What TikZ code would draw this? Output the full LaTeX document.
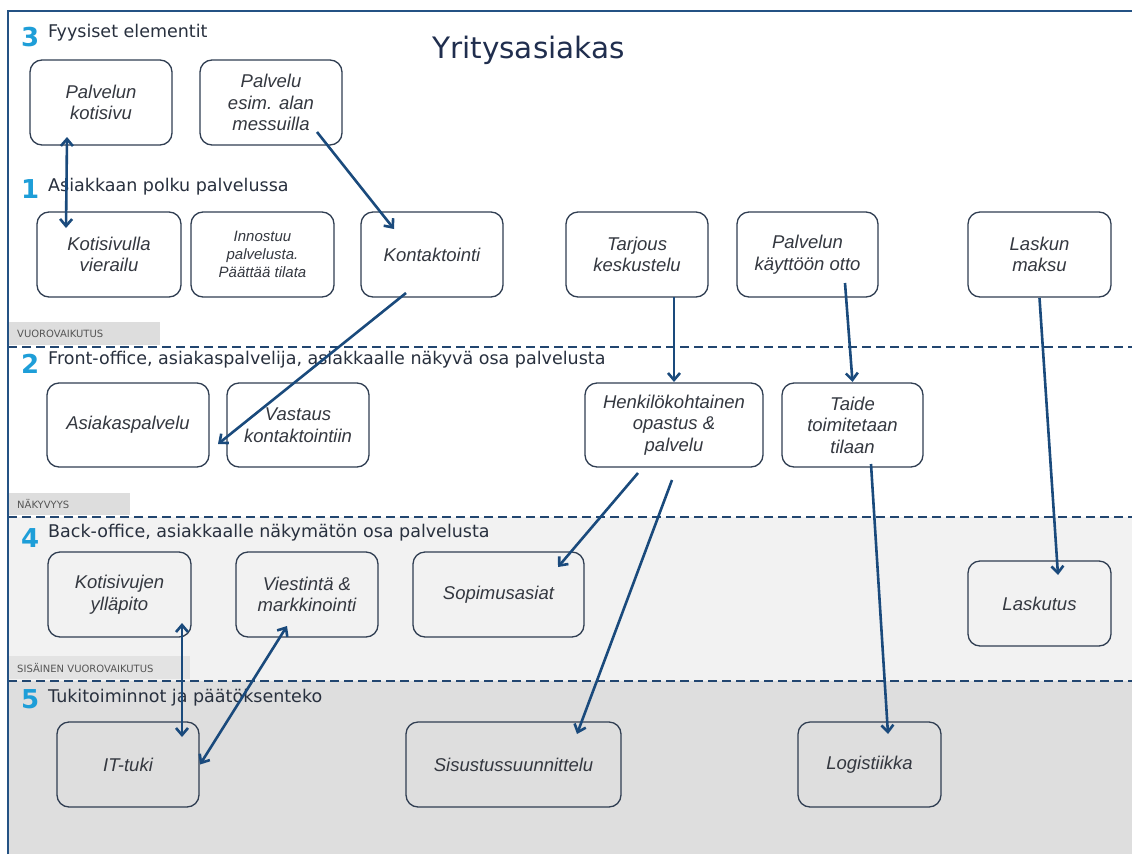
\documentclass[tikz,border=0pt]{standalone}
\usepackage{fontspec}
\usetikzlibrary{arrows.meta,calc}
\newfontfamily\hdfont{DejaVu Sans}
\newfontfamily\bxfont{Liberation Sans}
\definecolor{framec}{RGB}{36,82,132}
\definecolor{dashc}{RGB}{34,70,112}
\definecolor{arrowc}{RGB}{26,74,124}
\definecolor{boxline}{RGB}{48,62,82}
\definecolor{boxtext}{RGB}{52,56,64}
\definecolor{hdtext}{RGB}{40,48,62}
\definecolor{numc}{RGB}{30,158,216}
\definecolor{titlec}{RGB}{32,46,78}
\definecolor{bandfour}{RGB}{242,242,242}
\definecolor{bandfive}{RGB}{222,222,222}
\definecolor{lblfill}{RGB}{221,221,221}
\definecolor{lbltext}{RGB}{85,85,85}
\begin{document}
\begin{tikzpicture}[x=1pt,y=-1pt,
  box/.style={draw=boxline,line width=1.3pt,rounded corners=12pt,inner sep=0pt,outer sep=0pt,
    align=center,text=boxtext,font=\bxfont\itshape\fontsize{18.5}{21.5}\selectfont},
  smallbox/.style={box,font=\bxfont\itshape\fontsize{15}{18}\selectfont},
  arr/.style={draw=arrowc,line width=2.6pt,-{Straight Barb[length=7pt,width=12pt]}},
  biarr/.style={draw=arrowc,line width=2.6pt,{Straight Barb[length=7pt,width=12pt]}-{Straight Barb[length=7pt,width=12pt]}},
  sep/.style={draw=dashc,line width=2.2pt,dash pattern=on 9pt off 5pt},
  num/.style={anchor=base west,inner sep=0pt,text=numc,font=\hdfont\bfseries\fontsize{26}{26}\selectfont},
  hd/.style={anchor=base west,inner sep=0pt,text=hdtext,font=\hdfont\fontsize{17.5}{17.5}\selectfont},
  lbl/.style={anchor=north west,fill=lblfill,inner xsep=9pt,inner ysep=0pt,align=left,
    text=lbltext,font=\hdfont\fontsize{10}{10}\selectfont}]
\useasboundingbox (0,0) rectangle (1132,854);

% bands
\fill[white] (0,0) rectangle (1132,517);
\fill[bandfour] (8,517) rectangle (1132,681);
\fill[bandfive] (8,681) rectangle (1132,854);

% swim-lane labels
\node[lbl,minimum height=23pt,text width=134pt] (lv) at (8,322) {VUOROVAIKUTUS};
\node[lbl,minimum height=22pt,text width=104pt] (ln) at (8,493) {NÄKYVYYS};
\node[lbl,minimum height=23pt,text width=164pt,fill=lblfill!70!bandfour] (ls) at (8,656) {SISÄINEN VUOROVAIKUTUS};

% separators and frame
\draw[sep] (8,347) -- (1132,347);
\draw[sep] (8,517) -- (1132,517);
\draw[sep] (8,681) -- (1132,681);
\draw[draw=framec,line width=2.4pt] (8,854) -- (8,11) -- (1132,11);

% title and lane headings
\node[anchor=base west,inner sep=0pt,text=titlec,font=\hdfont\fontsize{29.5}{29.5}\selectfont] (title) at (432,58) {Yritysasiakas};
\node[num] (n3) at (21,46) {3};
\node[hd] (h3) at (48,37) {Fyysiset elementit};
\node[num] (n1) at (21,198) {1};
\node[hd] (h1) at (48,191) {Asiakkaan polku palvelussa};
\node[num] (n2) at (21,373) {2};
\node[hd] (h2) at (48,364) {Front-office, asiakaspalvelija, asiakkaalle näkyvä osa palvelusta};
\node[num] (n4) at (21,547) {4};
\node[hd] (h4) at (48,537) {Back-office, asiakkaalle näkymätön osa palvelusta};
\node[num] (n5) at (21,708) {5};
\node[hd] (h5) at (48,702) {Tukitoiminnot ja päätöksenteko};

% physical evidence
\node[box,minimum width=142pt,minimum height=85pt] (kotisivu) at (101,102.5) {Palvelun\\kotisivu};
\node[box,minimum width=142pt,minimum height=85pt] (messut) at (271,102.5) {Palvelu\\esim. alan\\messuilla};

% customer journey
\node[box,minimum width=144pt,minimum height=85pt] (vierailu) at (109,254.5) {Kotisivulla\\vierailu};
\node[smallbox,minimum width=143pt,minimum height=85pt] (innostuu) at (262.5,254.5) {Innostuu\\palvelusta.\\Päättää tilata};
\node[box,minimum width=142pt,minimum height=85pt] (kontakt) at (432,254.5) {Kontaktointi};
\node[box,minimum width=142pt,minimum height=85pt] (tarjous) at (637,254.5) {Tarjous\\keskustelu};
\node[box,minimum width=141pt,minimum height=85pt] (kaytto) at (807.5,254.5) {Palvelun\\käyttöön otto};
\node[box,minimum width=143pt,minimum height=85pt] (lasku) at (1039.5,254.5) {Laskun\\maksu};

% front office
\node[box,minimum width=162pt,minimum height=84pt] (asiakas) at (128,425) {Asiakaspalvelu};
\node[box,minimum width=142pt,minimum height=84pt] (vastaus) at (298,425) {Vastaus\\kontaktointiin};
\node[box,minimum width=178pt,minimum height=84pt] (henkilo) at (674,425) {Henkilökohtainen\\opastus \&\\palvelu};
\node[box,minimum width=141pt,minimum height=84pt] (taide) at (852.5,425) {Taide\\toimitetaan\\tilaan};

% back office
\node[box,minimum width=143pt,minimum height=85pt] (yllapito) at (119.5,594.5) {Kotisivujen\\ylläpito};
\node[box,minimum width=142pt,minimum height=85pt] (viestinta) at (307,594.5) {Viestintä \&\\markkinointi};
\node[box,minimum width=171pt,minimum height=85pt] (sopimus) at (498.5,594.5) {Sopimusasiat};
\node[box,minimum width=143pt,minimum height=85pt] (laskutus) at (1039.5,603.5) {Laskutus};

% support processes
\node[box,minimum width=142pt,minimum height=85pt] (ittuki) at (128,764.5) {IT-tuki};
\node[box,minimum width=215pt,minimum height=85pt] (sisustus) at (513.5,764.5) {Sisustussuunnittelu};
\node[box,minimum width=143pt,minimum height=85pt] (logistiikka) at (869.5,764.5) {Logistiikka};

% connectors
\draw[biarr] ($(kotisivu.south)+(-34,-8)$) -- ($(vierailu.north)+(-43,16)$);
\draw[arr] ($(messut.south)+(46,-13)$) -- ($(kontakt.north)+(-38,17)$);
\draw[arr] ($(kontakt.south)+(-26,-4)$) -- ($(asiakas.east)+(9,19)$);
\draw[arr] ($(tarjous.south)+(37,0)$) -- ($(henkilo.north)+(0,-1)$);
\draw[arr] ($(kaytto.south)+(37.5,-14)$) -- ($(taide.north)+(0,-1)$);
\draw[arr] ($(lasku.south)+(0,1)$) -- ($(laskutus.north)+(18.5,14)$);
\draw[arr] ($(henkilo.south)+(-36,6)$) -- ($(sopimus.north)+(59.5,15)$);
\draw[arr] ($(henkilo.south)+(-2,13)$) -- ($(sisustus.north)+(63.5,12)$);
\draw[arr] ($(taide.south)+(18.5,-3)$) -- ($(logistiikka.north)+(18.5,12)$);
\draw[biarr] ($(yllapito.south)+(62.5,-14)$) -- ($(ittuki.north)+(54,15)$);
\draw[biarr] ($(viestinta.south)+(-20,-11)$) -- ($(ittuki.east)+(1,0)$);
\end{tikzpicture}
\end{document}
